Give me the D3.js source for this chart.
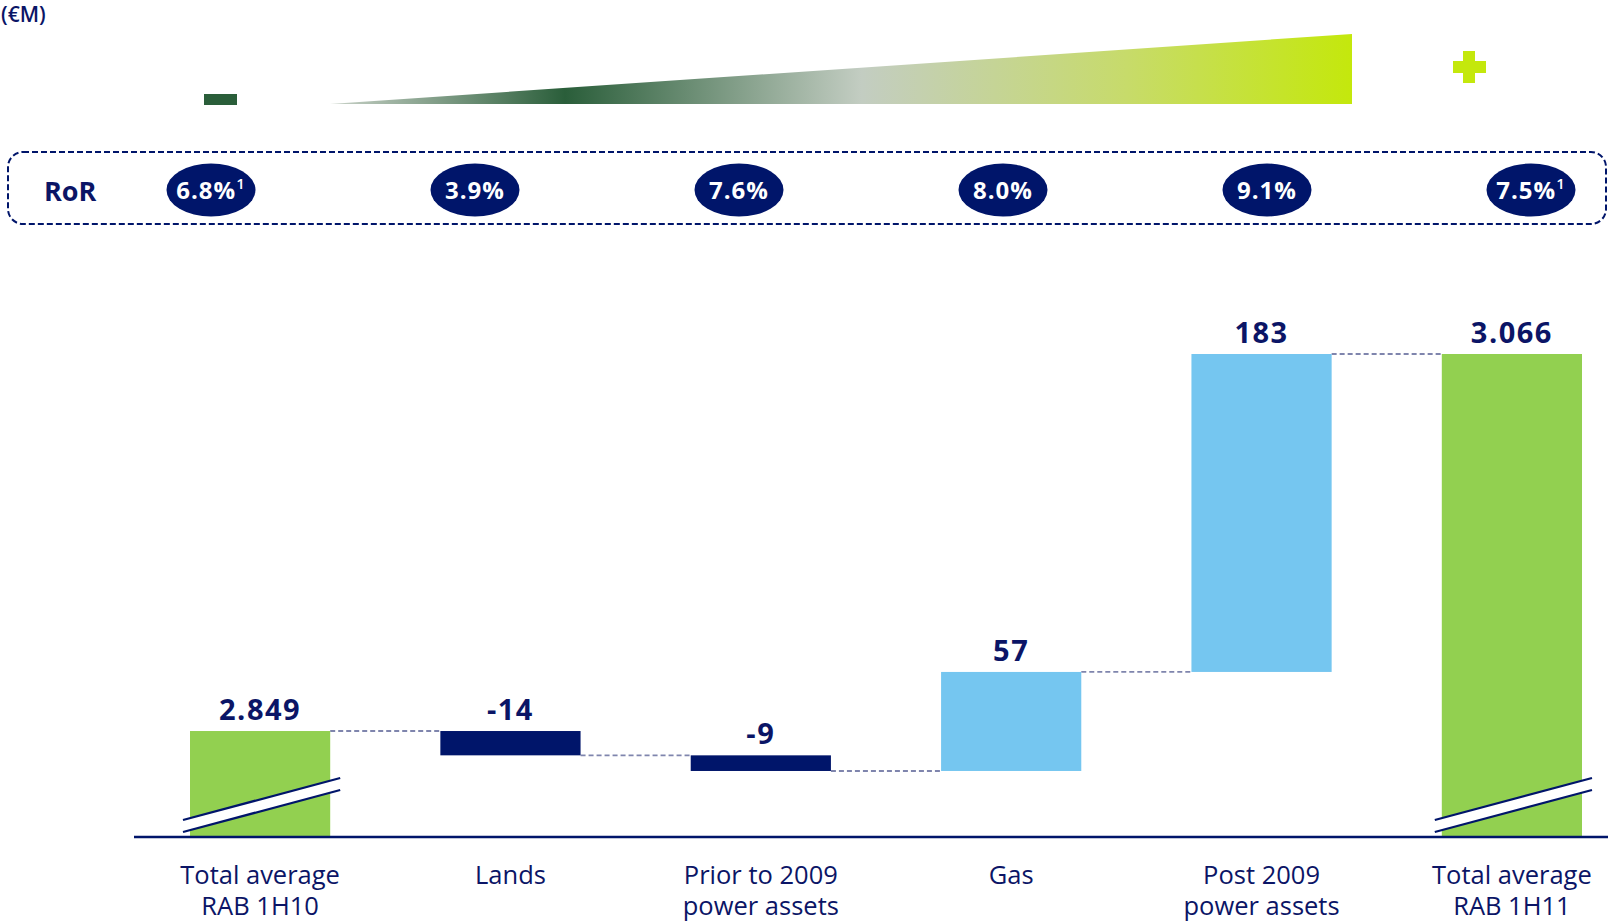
<!DOCTYPE html>
<html>
<head>
<meta charset="utf-8">
<script src="https://cdn.jsdelivr.net/npm/d3@7"></script>
<style>
  html, body { margin: 0; padding: 0; background: #fff; }
  svg { display: block; }
  text { font-family: "Open Sans", "Noto Sans", sans-serif; }
</style>
</head>
<body>
<svg id="chart" width="1608" height="922"></svg>
<script>
// RAB bridge, 1H10 -> 1H11 (€M)
const categories = [
  "Total average|RAB 1H10",
  "Lands",
  "Prior to 2009|power assets",
  "Gas",
  "Post 2009|power assets",
  "Total average|RAB 1H11"
];
const barKinds   = ["total", "delta", "delta", "delta", "delta", "total"];
const barValues  = [2849, -14, -9, 57, 183, 3066];
const valueLabels = ["2.849", "-14", "-9", "57", "183", "3.066"];
const rorLabels  = ["6.8%", "3.9%", "7.6%", "8.0%", "9.1%", "7.5%"];
const rorNotes   = ["1", "", "", "", "", "1"];
const axisFloor  = 2788;   // value axis is cut below this level

const NAVY = "#00156a";
const TEXT = "#0b1566";
const GREEN = "#92d050";
const LIGHTBLUE = "#75c6f0";

const svg = d3.select("#chart");

// --- scales
const x = d3.scaleBand().domain(categories).range([190, 1582]).paddingInner(0.44).paddingOuter(0);
const y = d3.scaleLinear().domain([axisFloor, 3066]).range([837, 354]);
const xr = d3.scalePoint().domain(categories).range([211, 1531]);

// --- running totals for the waterfall
let run = 0;
const bars = categories.map((c, i) => {
  let lo, hi, end;
  if (barKinds[i] === "total") {
    lo = axisFloor; hi = barValues[i]; end = barValues[i];
  } else {
    const start = run; end = run + barValues[i];
    lo = Math.min(start, end); hi = Math.max(start, end);
  }
  run = end;
  const fill = barKinds[i] === "total" ? GREEN : (barValues[i] < 0 ? NAVY : LIGHTBLUE);
  return { c, i, lo, hi, end, fill, label: valueLabels[i] };
});

// --- unit caption
svg.append("text").attr("x", 1).attr("y", 22)
  .attr("font-size", 21).attr("font-weight", 600).attr("fill", TEXT).text("(€M)");

// --- low / high RoR gradient wedge
const defs = svg.append("defs");
const grad = defs.append("linearGradient").attr("id", "rorRamp")
  .attr("gradientUnits", "userSpaceOnUse")
  .attr("x1", 330).attr("x2", 1352).attr("y1", 0).attr("y2", 0);
[
  [0.00, "#c9d2c8"],
  [0.23, "#2a5e3a"],
  [0.52, "#c3cdc2"],
  [0.78, "#c7db6a"],
  [1.00, "#c4e80c"]
].forEach(([o, c]) => grad.append("stop").attr("offset", o).attr("stop-color", c));

svg.append("path")
  .attr("d", "M330,104 L1352,34 L1352,104 Z")
  .attr("fill", "url(#rorRamp)");

// minus sign
svg.append("rect").attr("x", 204).attr("y", 94).attr("width", 33).attr("height", 11)
  .attr("fill", "#2a5e3a");
// plus sign
const plus = svg.append("g").attr("fill", "#c4e80c");
plus.append("rect").attr("x", 1463).attr("y", 51).attr("width", 12).attr("height", 32);
plus.append("rect").attr("x", 1453).attr("y", 61).attr("width", 33).attr("height", 12);

// --- RoR row
svg.append("rect").attr("x", 8).attr("y", 152).attr("width", 1598).attr("height", 72)
  .attr("rx", 15).attr("ry", 15)
  .attr("fill", "none").attr("stroke", NAVY).attr("stroke-width", 2)
  .attr("stroke-dasharray", "6,3");

svg.append("text").attr("x", 44).attr("y", 201)
  .attr("font-size", 27).attr("font-weight", 700).attr("fill", TEXT).text("RoR");

const ror = svg.append("g").selectAll("g").data(categories).join("g")
  .attr("transform", d => `translate(${xr(d)},190)`);
ror.append("ellipse").attr("rx", 44.5).attr("ry", 26.5).attr("fill", NAVY);
const rt = ror.append("text").attr("y", 9).attr("text-anchor", "middle")
  .attr("font-size", 24).attr("font-weight", 700).attr("fill", "#fff")
  .attr("letter-spacing", 1);
rt.append("tspan").text((d, i) => rorLabels[i]);
rt.append("tspan").attr("font-size", 15).attr("dy", -10).attr("font-weight", 600)
  .text((d, i) => rorNotes[i]);

// --- connectors between bars
const conn = svg.append("g");
bars.slice(0, -1).forEach(b => {
  conn.append("line")
    .attr("x1", x(b.c) + x.bandwidth()).attr("x2", x(categories[b.i + 1]))
    .attr("y1", y(b.end)).attr("y2", y(b.end))
    .attr("stroke", "#7f85ad").attr("stroke-width", 1.8)
    .attr("stroke-dasharray", "5,3");
});

// --- bars
svg.append("g").selectAll("rect").data(bars).join("rect")
  .attr("x", d => x(d.c)).attr("width", x.bandwidth())
  .attr("y", d => y(d.hi)).attr("height", d => y(d.lo) - y(d.hi))
  .attr("fill", d => d.fill);

// value labels
svg.append("g").selectAll("text").data(bars).join("text")
  .attr("x", d => x(d.c) + x.bandwidth() / 2)
  .attr("y", d => y(d.hi) - 11)
  .attr("text-anchor", "middle")
  .attr("font-size", 29).attr("font-weight", 700).attr("fill", TEXT)
  .attr("letter-spacing", 1.5)
  .text(d => d.label);

// --- axis break marks on the total bars
const base = y(axisFloor);
bars.filter(b => barKinds[b.i] === "total").forEach(b => {
  const x0 = x(b.c) - 7, x1 = x(b.c) + x.bandwidth() + 10;
  const g = svg.append("g");
  g.append("path")
    .attr("d", `M${x0},${base - 17} L${x1},${base - 59} L${x1},${base - 47} L${x0},${base - 5} Z`)
    .attr("fill", "#fff");
  g.append("line").attr("x1", x0).attr("y1", base - 17).attr("x2", x1).attr("y2", base - 59)
    .attr("stroke", NAVY).attr("stroke-width", 2.2);
  g.append("line").attr("x1", x0).attr("y1", base - 5).attr("x2", x1).attr("y2", base - 47)
    .attr("stroke", NAVY).attr("stroke-width", 2.2);
});

// --- category axis
const axis = svg.append("g").attr("transform", `translate(0,${base})`)
  .call(d3.axisBottom(x).tickSize(0).tickFormat(""));
axis.select(".domain").remove();
svg.append("line").attr("x1", 134).attr("x2", 1608).attr("y1", base).attr("y2", base)
  .attr("stroke", NAVY).attr("stroke-width", 2.5);

axis.selectAll(".tick").each(function(d) {
  const t = d3.select(this).append("text")
    .attr("text-anchor", "middle").attr("fill", TEXT)
    .attr("font-size", 25.5).attr("font-family", "'Open Sans', sans-serif");
  d.split("|").forEach((line, k) => {
    t.append("tspan").attr("x", 0).attr("y", 47 + k * 31).text(line);
  });
});
</script>
</body>
</html>
